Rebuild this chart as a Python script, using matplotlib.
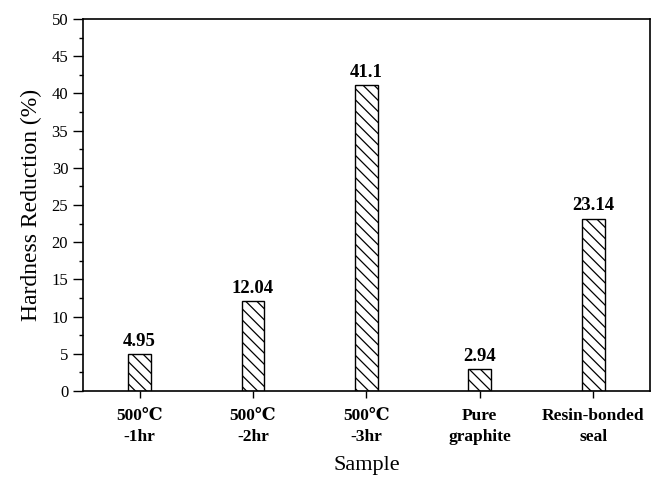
import matplotlib
matplotlib.use("Agg")
import matplotlib.pyplot as plt

# data
samples = ["500\u2103\n-1hr", "500\u2103\n-2hr", "500\u2103\n-3hr", "Pure\ngraphite", "Resin-bonded\nseal"]
reduction = [4.95, 12.04, 41.1, 2.94, 23.14]
value_labels = ["4.95", "12.04", "41.1", "2.94", "23.14"]

plt.rcParams['font.family'] = ['Liberation Serif', 'DejaVu Serif', 'Noto Sans CJK SC']
plt.rcParams['hatch.linewidth'] = 0.9

fig = plt.figure(figsize=(6.68, 4.87), dpi=100)
ax = fig.add_axes([0.124, 0.197, 0.849, 0.764])

x = list(range(len(samples)))
ax.bar(x, reduction, width=0.2, color='white', edgecolor='black',
       linewidth=1.0, hatch='\\\\\\')

for xi, v, lbl in zip(x, reduction, value_labels):
    ax.text(xi, v + 0.6, lbl, ha='center', va='bottom',
            fontsize=13.5, fontweight='bold')

ax.set_xlim(-0.5, 4.5)
ax.set_ylim(0, 50)
ax.set_yticks(range(0, 51, 5))
ax.set_yticks([i * 2.5 for i in range(21)], minor=True)
ax.set_xticks(x)
ax.set_xticklabels(samples, fontsize=12.5, fontweight='bold', linespacing=1.45)
ax.tick_params(axis='y', labelsize=12, direction='out', length=7, width=1)
ax.tick_params(axis='y', which='minor', direction='out', length=3, width=1)
ax.tick_params(axis='x', direction='out', length=5, width=1, pad=7)
ax.tick_params(top=False, right=False)

for s in ax.spines.values():
    s.set_linewidth(1.2)

ax.set_ylabel("Hardness Reduction (%)", fontsize=17, labelpad=7)
ax.set_xlabel("Sample", fontsize=16, labelpad=8)

fig.savefig("out.png", dpi=100)
